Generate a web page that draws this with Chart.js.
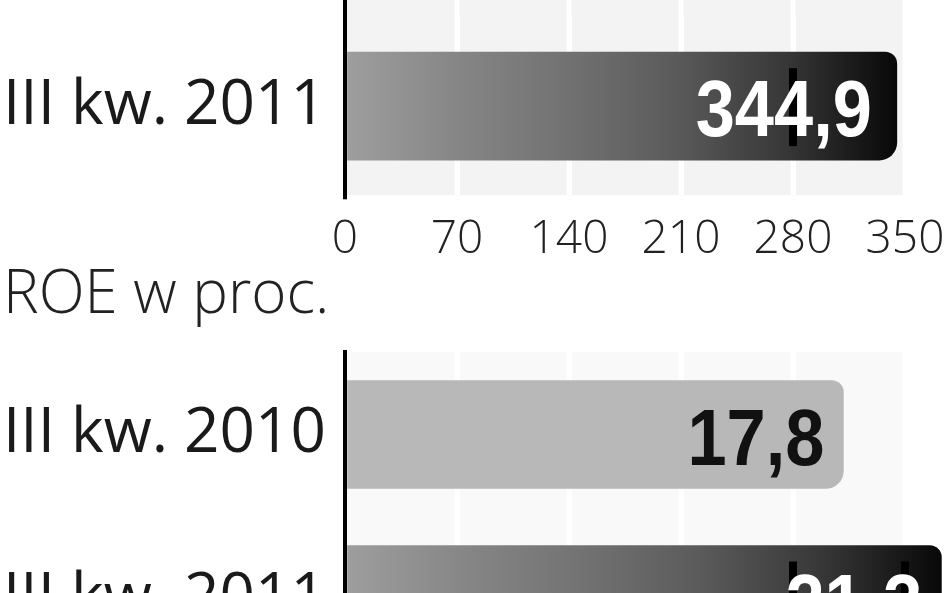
<!DOCTYPE html>
<html><head><meta charset="utf-8">
<script src="https://cdn.jsdelivr.net/npm/chart.js@4.4.1/dist/chart.umd.min.js"></script>
<style>
html,body{margin:0;padding:0;background:#fff;}
#wrap{position:relative;width:948px;height:593px;overflow:hidden;background:#fff;}
canvas{position:absolute;left:0;}
#c1{top:0;}
#c2{top:250px;}
</style></head><body>
<div id="wrap"><canvas id="c1" width="948" height="289"></canvas><canvas id="c2" width="948" height="440"></canvas></div>
<script>
// ---- data ----
const profitCategories = ['III kw. 2011'];
const profitValues = [344.9];
const profitTicks = [0, 70, 140, 210, 280, 350];

const roeTitle = 'ROE w proc.';
const roeCategories = ['III kw. 2010', 'III kw. 2011'];
const roeValues = [17.8, 21.3];
const roeTicks = [0, 4, 8, 12, 16, 20];

// ---- styles ----
const profitFills = ['gradient'];
const profitLabelColors = ['#ffffff'];
const roeFills = ['#b8b8b8', 'gradient'];
const roeLabelColors = ['#111111', '#ffffff'];

function fillFor(fills) {
  return function (ctx) {
    const f = fills[ctx.dataIndex];
    if (f !== 'gradient') return f;
    const chart = ctx.chart, area = chart.chartArea;
    if (!area) return '#555';
    const end = chart.scales.x.getPixelForValue(ctx.raw);
    const g = chart.ctx.createLinearGradient(area.left, 0, end, 0);
    g.addColorStop(0, '#9e9e9e');
    g.addColorStop(0.2, '#868686');
    g.addColorStop(0.4, '#727272');
    g.addColorStop(0.6, '#5a5a5a');
    g.addColorStop(0.8, '#373737');
    g.addColorStop(1, '#080808');
    return g;
  };
}
const gridColor = (c) => (c.tick && c.tick.value === 0) ? 'rgba(0,0,0,0)' : '#ffffff';

const VALUE_SCALE_X = 0.88;
const decor = {
  id: 'decor',
  beforeDraw(chart, args, opts) {
    const { ctx, chartArea: a, scales: { x } } = chart;
    const top = opts.extendTop ? 0 : a.top;
    ctx.save();
    ctx.fillStyle = opts.bg;
    ctx.fillRect(a.left, top, a.right - a.left, a.bottom - top);
    ctx.fillStyle = '#ffffff';
    x.ticks.forEach(t => {
      if (t.value === 0) return;
      const px = x.getPixelForValue(t.value);
      ctx.fillRect(px - 2.5, top, 5, a.bottom - top);
    });
    ctx.restore();
  },
  afterDraw(chart, args, opts) {
    const { ctx, chartArea: a, scales: { x } } = chart;
    ctx.save();
    ctx.fillStyle = '#000';
    if (opts.extendTop) ctx.fillRect(a.left - 2, 0, 4, a.top + 1);
    ctx.fillRect(a.left - 2, a.bottom - 1, 4, 5);
    const meta = chart.getDatasetMeta(0);
    const vals = chart.data.datasets[0].data;
    ctx.font = 'bold 80px "Liberation Sans", Arial, sans-serif';
    ctx.textAlign = 'right';
    ctx.textBaseline = 'alphabetic';
    meta.data.forEach((bar, i) => {
      const txt = vals[i].toFixed(1).replace('.', ',');
      const w = ctx.measureText(txt).width * VALUE_SCALE_X;
      const right = bar.x - opts.labelPad;
      const base = bar.y + 30;
      const col = opts.labelColors[i];
      if (col === '#ffffff') {
        ctx.fillStyle = '#000';
        x.ticks.forEach(t => {
          const px = x.getPixelForValue(t.value);
          if (px > right - w + 4 && px < right + 12) ctx.fillRect(px - 4, base - 68, 8, 78);
        });
      }
      ctx.fillStyle = col;
      ctx.save();
      ctx.translate(right, base);
      ctx.scale(VALUE_SCALE_X, 1);
      ctx.fillText(txt, 0, 0);
      ctx.restore();
    });
    ctx.restore();
  }
};

const catFont = { family: '"Open Sans", "Noto Sans", sans-serif', size: 62, weight: '400', lineHeight: 0.2 };
const tickFont = { family: '"Open Sans", "Noto Sans", sans-serif', size: 46, weight: '300', lineHeight: 1.95 };

new Chart(document.getElementById('c1'), {
  type: 'bar',
  data: {
    labels: profitCategories,
    datasets: [{
      data: profitValues,
      backgroundColor: fillFor(profitFills),
      barThickness: 108,
      borderSkipped: 'start',
      borderRadius: { topLeft: 0, bottomLeft: 0, topRight: 12, bottomRight: 18 }
    }]
  },
  options: {
    indexAxis: 'y', responsive: false, animation: false, devicePixelRatio: 1,
    layout: { padding: { top: 17, right: 43, bottom: 4, left: 3 } },
    plugins: {
      legend: { display: false }, tooltip: { enabled: false },
      decor: { bg: '#f3f3f3', extendTop: true, labelPad: 25, labelColors: profitLabelColors }
    },
    scales: {
      x: {
        min: profitTicks[0], max: profitTicks[profitTicks.length - 1], z: 1,
        ticks: { stepSize: profitTicks[1] - profitTicks[0], padding: 0, color: '#222', font: tickFont, maxRotation: 0 },
        grid: { color: gridColor, lineWidth: 5, drawTicks: false },
        border: { display: false }
      },
      y: {
        z: 2,
        afterFit: s => { s.width = 342; },
        ticks: { padding: 0, crossAlign: 'far', color: '#1a1a1a', font: catFont },
        grid: { display: false, drawTicks: false },
        border: { color: '#000', width: 4 }
      }
    }
  },
  plugins: [decor]
});

new Chart(document.getElementById('c2'), {
  type: 'bar',
  data: {
    labels: roeCategories,
    datasets: [{
      data: roeValues,
      backgroundColor: fillFor(roeFills),
      barThickness: 108,
      clip: false,
      borderSkipped: 'start',
      borderRadius: { topLeft: 0, bottomLeft: 0, topRight: 12, bottomRight: 18 }
    }]
  },
  options: {
    indexAxis: 'y', responsive: false, animation: false, devicePixelRatio: 1,
    layout: { padding: { top: 0, right: 43, bottom: 8, left: 3 } },
    plugins: {
      legend: { display: false }, tooltip: { enabled: false },
      title: {
        display: true, text: roeTitle, align: 'start', color: '#222',
        font: { family: '"Open Sans", "Noto Sans", sans-serif', size: 60, weight: '300', lineHeight: 1.2 },
        padding: { top: 10, bottom: 20 }
      },
      decor: { bg: '#f9f9f9', extendTop: false, labelPad: 19, labelColors: roeLabelColors }
    },
    scales: {
      x: {
        min: roeTicks[0], max: roeTicks[roeTicks.length - 1], z: 1,
        ticks: { stepSize: roeTicks[1] - roeTicks[0], display: false },
        grid: { color: gridColor, lineWidth: 5, drawTicks: false },
        border: { display: false }
      },
      y: {
        z: 2,
        afterFit: s => { s.width = 342; },
        ticks: { padding: 0, crossAlign: 'far', color: '#1a1a1a', font: catFont },
        grid: { display: false, drawTicks: false },
        border: { color: '#000', width: 4 }
      }
    }
  },
  plugins: [decor]
});
</script>
</body></html>
